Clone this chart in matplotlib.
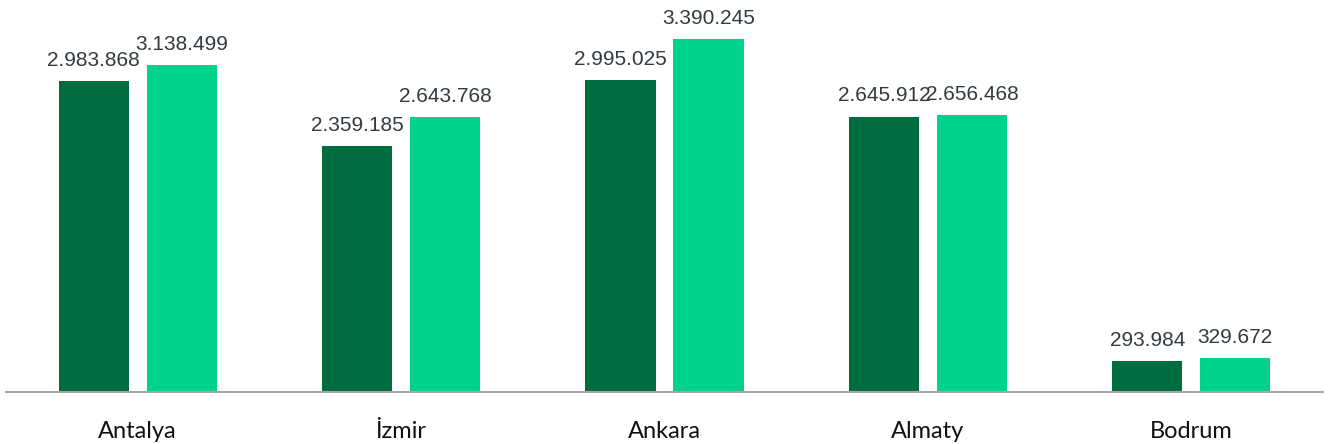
import numpy as np
import matplotlib.pyplot as plt

cities = ["Antalya", "İzmir", "Ankara", "Almaty", "Bodrum"]
series_a = [2983868, 2359185, 2995025, 2645912, 293984]
series_b = [3138499, 2643768, 3390245, 2656468, 329672]

dark_green = "#006D3F"
light_green = "#00D28B"


def fmt(v):
    # thousands separated with dots
    return f"{v:,}".replace(",", ".")


fig = plt.figure(figsize=(13.32, 4.44), dpi=100)
ax = fig.add_axes([6 / 1332, 52 / 444, 1317 / 1332, 392 / 444])

x = np.arange(len(cities))
w = 0.266
off = 0.167
bars_a = ax.bar(x - off, series_a, w, color=dark_green)
bars_b = ax.bar(x + off, series_b, w, color=light_green)

for bars, vals in ((bars_a, series_a), (bars_b, series_b)):
    for b, v in zip(bars, vals):
        ax.annotate(fmt(v), (b.get_x() + b.get_width() / 2, v),
                    xytext=(0, 8), textcoords="offset points",
                    ha="center", va="bottom", fontsize=15,
                    family="Liberation Sans", color="#333a40")

ax.set_xlim(-0.5, len(cities) - 0.5)
ax.set_ylim(0, 3390245 * 392 / 353)
ax.set_xticks(x)
ax.set_xticklabels(cities, family="Lato", fontsize=17, color="#111111")
ax.tick_params(axis="x", length=0, pad=21)
ax.set_yticks([])
for s in ("top", "right", "left"):
    ax.spines[s].set_visible(False)
ax.spines["bottom"].set_color("#a6a6a6")
ax.spines["bottom"].set_linewidth(1.5)

fig.savefig("out.png", dpi=100)
